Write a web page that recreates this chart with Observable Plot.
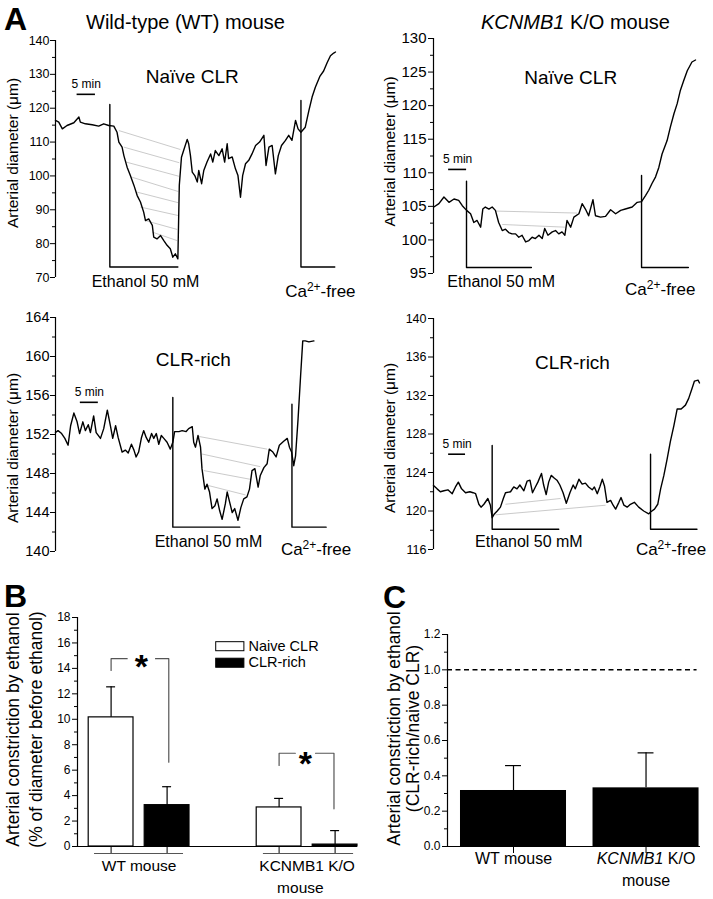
<!DOCTYPE html>
<html><head><meta charset="utf-8">
<script src="https://cdn.jsdelivr.net/npm/d3@7"></script>
<script src="https://cdn.jsdelivr.net/npm/@observablehq/plot@0.6"></script>
<style>
html,body{margin:0;padding:0;background:#fff;}
#fig{position:relative;width:713px;height:899px;overflow:hidden;background:#fff;}
#fig svg{position:absolute;left:0;top:0;}
</style></head><body><div id="fig"></div>
<script>
// ---------- DATA: traces [time (min), arterial diameter (µm)] ----------
const wtNaive = [[0,116.4],[0.9,115.9],[1.9,113.9],[3.2,114.9],[5.1,115.7],[6.5,117.4],[6.9,115.9],[8.3,115.4],[10.2,115.1],[12.0,114.7],[13.4,115.4],[14.8,114.9],[16.2,114.7],[17.1,112.9],[17.6,110.0],[18.5,108.5],[19.0,106.0],[19.9,102.6],[20.8,100.1],[21.8,97.2],[22.7,94.2],[23.6,92.3],[24.5,89.3],[25.0,86.8],[25.9,87.3],[26.9,85.4],[27.3,81.9],[28.2,81.4],[29.2,82.4],[30.1,80.9],[31.0,79.5],[31.9,78.5],[32.6,76.0],[33.3,77.0],[34.0,75.5],[34.4,97.2],[35.0,105.5],[35.6,107.5],[36.6,110.8],[37.0,109.5],[37.5,106.0],[38.0,101.1],[38.7,100.1],[39.4,98.2],[39.8,101.6],[40.6,97.7],[41.2,101.6],[42.1,104.1],[43.1,106.5],[43.7,104.1],[44.4,107.5],[45.4,106.0],[46.3,108.0],[47.0,104.1],[47.7,109.5],[48.1,105.1],[49.1,105.6],[50.0,102.1],[50.7,100.1],[51.4,93.7],[52.0,100.1],[52.8,103.6],[53.7,104.6],[54.6,106.5],[55.6,109.0],[56.7,110.0],[57.9,112.0],[58.5,103.1],[59.3,108.5],[60.2,109.0],[61.1,100.6],[61.9,106.0],[62.8,109.0],[63.9,110.5],[64.8,112.0],[65.7,110.5],[66.7,116.4],[67.4,113.9],[68.2,112.9],[69.4,114.4],[70.4,119.3],[71.3,123.3],[72.2,126.2],[73.5,129.5],[74.5,131.0],[75.5,133.5],[76.4,135.5],[77.3,136.3],[77.8,136.6]];
const koNaive = [[0.1,104.9],[1.5,105.4],[2.9,106.4],[4.3,105.6],[5.7,106.1],[7.0,105.9],[8.0,105.1],[9.2,104.4],[10.3,103.9],[11.2,102.6],[12.1,102.9],[13.1,101.9],[13.7,104.6],[14.4,104.9],[15.4,104.6],[16.3,104.9],[17.2,104.4],[18.1,102.6],[19.1,101.4],[20.0,101.6],[20.9,101.1],[21.8,100.9],[22.8,100.9],[23.7,100.4],[24.6,100.7],[25.6,99.7],[26.5,99.9],[27.4,100.4],[28.3,100.2],[29.3,100.7],[30.2,100.2],[30.9,101.7],[31.8,100.7],[33.0,101.2],[33.9,101.4],[34.8,100.9],[35.7,101.2],[36.5,100.7],[37.1,102.9],[38.1,101.9],[39.0,103.4],[40.4,103.9],[41.3,105.4],[42.2,104.6],[43.1,103.6],[44.3,106.0],[45.0,103.6],[46.4,103.4],[47.8,103.5],[49.2,104.5],[50.6,103.9],[52.0,104.4],[53.3,104.6],[55.2,104.9],[56.6,105.6],[57.8,105.7],[58.9,106.6],[59.8,107.4],[60.7,108.4],[61.7,109.4],[62.6,110.8],[63.5,112.8],[64.9,114.8],[65.8,116.8],[66.8,118.8],[67.7,120.3],[68.6,122.3],[69.5,123.7],[70.5,125.2],[71.8,126.5],[72.8,126.8]];
const wtRich = [[0,152.2],[0.7,152.4],[1.7,152.1],[2.6,151.6],[3.5,150.9],[4.2,152.9],[5.1,154.2],[6.0,153.3],[6.7,152.1],[7.6,153.3],[8.3,152.4],[9.1,153.0],[9.7,152.2],[10.6,153.9],[11.3,152.2],[12.5,151.6],[13.4,152.6],[14.4,154.5],[15.3,152.8],[15.9,151.6],[16.7,152.9],[17.4,151.7],[18.5,150.2],[19.4,150.4],[20.2,150.1],[21.1,151.0],[21.8,150.4],[22.4,149.7],[23.1,150.2],[23.9,151.7],[24.5,152.4],[25.2,151.7],[25.9,151.2],[26.7,152.1],[27.3,151.6],[28.0,152.1],[28.7,151.0],[29.4,151.9],[30.1,151.6],[31.0,151.2],[31.9,150.5],[32.6,151.2],[33.1,152.3],[34.3,152.3],[35.2,152.4],[36.3,152.3],[37.0,152.6],[38.0,152.8],[38.4,151.2],[38.9,150.7],[39.6,151.9],[40.3,150.7],[40.7,148.5],[41.5,146.4],[42.1,146.9],[42.8,146.1],[43.5,144.4],[44.3,144.7],[44.9,145.4],[45.6,144.2],[46.3,143.3],[47.2,144.9],[47.7,146.1],[48.3,145.2],[49.1,144.0],[49.8,144.4],[50.7,143.2],[51.5,144.5],[52.3,145.4],[53.2,145.6],[53.9,146.4],[54.6,148.3],[55.4,148.5],[56.3,146.6],[56.9,147.8],[57.9,148.6],[58.8,149.0],[59.4,150.5],[60.4,150.2],[61.3,149.7],[62.2,150.9],[63.4,151.3],[64.4,151.6],[65.0,150.7],[65.6,150.2],[66.2,148.8],[66.7,149.8],[67.4,153.6],[68.1,158.0],[68.7,161.6],[69.4,161.6],[70.4,161.5],[71.8,161.6]];
const koRich = [[0,122.65],[1.0,122.3],[1.9,122.0],[2.9,122.1],[4.0,122.2],[5.2,121.8],[6.1,122.5],[6.9,123.0],[7.8,122.3],[8.9,121.9],[10.1,122.0],[11.0,121.9],[11.7,121.8],[12.6,120.7],[13.2,120.4],[14.0,120.7],[15.1,121.3],[15.8,120.6],[16.3,119.3],[16.9,119.7],[17.7,120.0],[18.6,120.4],[19.4,121.3],[20.0,121.9],[21.4,122.0],[22.3,122.5],[23.2,122.3],[24.0,122.7],[25.1,122.1],[26.0,123.1],[26.8,123.2],[27.5,121.9],[28.3,122.5],[29.0,123.0],[30.0,123.9],[30.6,122.7],[31.3,121.7],[32.0,123.0],[32.7,123.7],[33.6,123.4],[34.3,123.2],[35.1,122.7],[36.0,121.9],[36.9,120.8],[37.9,121.9],[38.8,122.7],[39.4,122.3],[40.4,123.3],[41.3,122.8],[42.2,122.9],[43.1,122.5],[44.1,122.2],[44.7,122.5],[45.5,121.8],[46.2,122.5],[46.9,123.3],[47.5,122.6],[48.2,120.9],[49.2,121.1],[49.9,120.6],[50.6,120.2],[51.5,120.9],[52.1,121.4],[52.9,120.6],[53.8,120.4],[54.7,120.7],[55.8,120.9],[57.0,120.4],[58.4,120.0],[59.8,119.7],[60.3,119.9],[61.4,120.2],[62.3,120.7],[63.1,122.3],[64.0,123.7],[64.9,125.4],[65.8,127.2],[66.8,128.9],[67.7,130.6],[68.8,130.6],[70.0,131.0],[70.9,131.7],[71.8,132.7],[72.5,133.5],[73.5,133.6],[73.9,133.3]];

// grey guide lines [t1, d1, t2, d2]
const wtNaiveHatch = [[17.6,113.4,34.7,107.8],[19.0,108.5,34.4,103.9],[19.6,104.1,34.3,99.9],[21.3,99.6,34.1,95.4],[22.7,95.2,34.1,92.1],[23.6,90.8,34.1,88.3],[25.0,86.8,33.8,84.2],[26.9,83.4,33.8,80.9]];
const koNaiveHatch = [[17.2,104.3,39.9,104.0],[19.1,102.3,36.5,101.9]];
const wtRichHatch = [[39.8,151.8,58.8,150.5],[40.7,150.0,56.9,148.7],[41.2,148.3,54.2,147.4],[42.1,146.8,52.8,145.8]];
const koRichHatch = [[20.0,120.7,35.3,121.3],[17.2,119.6,47.8,120.6]];

// Panel B values
const bSlots = [0, 1, 3, 4];
const bCond = ["Naive CLR", "CLR-rich", "Naive CLR", "CLR-rich"];
const bMean = [10.15, 3.25, 3.07, 0.15];
const bSem = [2.4, 1.45, 0.71, 1.1];
const bYTicks = [0, 2, 4, 6, 8, 10, 12, 14, 16, 18];
const bYMinor = [1, 3, 5, 7, 9, 11, 13, 15, 17];
// Panel C values
const cSlots = [0, 1];
const cMean = [0.317, 0.332];
const cSem = [0.141, 0.198];
const cYTicks = [0, 0.2, 0.4, 0.6, 0.8, 1.0, 1.2];
const cYMinor = [0.1, 0.3, 0.5, 0.7, 0.9, 1.1];
const cRef = [1.0];

// ---------- RENDER ----------
const FONT = '"Liberation Sans", Arial, Helvetica, sans-serif';
const W = 713, H = 899;
const fig = document.getElementById("fig");
const P = d => d[0], V = d => d[1];
const bracket = b => [[b.t, b.top], [b.t, b.bottom], [b.end, b.bottom]];

function addSup(svg) {
  d3.select(svg).selectAll("text").filter(function () { return this.textContent === "Ca2+-free"; }).each(function () {
    const s = d3.select(this); s.text(null);
    s.append("tspan").text("Ca");
    s.append("tspan").attr("dy", -6).attr("font-size", 12).text("2+");
    s.append("tspan").attr("dy", 6).text("-free");
  });
}

function tracePanel(c) {
  const svg = Plot.plot({
    width: W, height: H,
    marginLeft: c.left, marginRight: W - c.right, marginTop: c.top, marginBottom: H - c.bottom,
    x: {domain: [0, c.xMax], axis: null},
    y: {domain: c.yDomain},
    style: {background: "transparent", fontFamily: FONT, fontSize: c.tickFont + "px", color: "#000", overflow: "visible"},
    marks: [
      Plot.axisY({ticks: c.major, tickSize: 5, tickPadding: c.pad, label: null}),
      Plot.axisY({ticks: c.minor, tickSize: 3, tickFormat: () => "", label: null}),
      Plot.ruleX([0], {strokeWidth: 1.2}),
      Plot.link(c.hatch, {x1: d => d[0], y1: d => d[1], x2: d => d[2], y2: d => d[3], stroke: "#c4c4c4", strokeWidth: 0.9}),
      Plot.line(c.trace, {x: P, y: V, strokeWidth: 1.4}),
      Plot.line(bracket(c.eth), {x: P, y: V, strokeWidth: 1.4}),
      Plot.line(bracket(c.ca), {x: P, y: V, strokeWidth: 1.4}),
      Plot.ruleY([c.bar], {y: "y", x1: "t1", x2: "t2", strokeWidth: 1.6}),
      Plot.text([c.bar], {x: d => (d.t1 + d.t2) / 2, y: "ty", text: () => "5 min", fontSize: 12}),
      Plot.text([c.cond], {x: "x", y: "y", text: "s", fontSize: 19}),
      Plot.text([c.ethText], {x: "x", y: "y", text: () => "Ethanol 50 mM", fontSize: 16}),
      Plot.text([c.caText], {x: "x", y: "y", text: () => "Ca2+-free", fontSize: 17}),
      Plot.text(["Arterial diameter (μm)"], {frameAnchor: "left", textAnchor: "middle", rotate: -90, dx: c.labDx, dy: c.labDy, fontSize: 15.5})
    ]
  });
  addSup(svg);
  fig.append(svg);
}

tracePanel({
  trace: wtNaive, hatch: wtNaiveHatch, left: 55, right: 335, top: 40, bottom: 277, xMax: 77.8,
  yDomain: [70, 140], major: [70, 80, 90, 100, 110, 120, 130, 140], minor: [75, 85, 95, 105, 115, 125, 135],
  tickFont: 12.5, pad: 1,
  eth: {t: 15.1, top: 121.1, bottom: 73.1, end: 34.0}, ca: {t: 68.2, top: 122.3, bottom: 73.1, end: 77.6},
  bar: {t1: 6.0, t2: 11.1, y: 124.1, ty: 127.0}, cond: {x: 38, y: 129.2, s: "Naïve CLR"},
  ethText: {x: 25.0, y: 68.6}, caText: {x: 73.6, y: 65.9}, labDx: -42.5, labDy: -6
});
tracePanel({
  trace: koNaive, hatch: koNaiveHatch, left: 433, right: 699, top: 38, bottom: 273, xMax: 73.9,
  yDomain: [95, 130], major: [95, 100, 105, 110, 115, 120, 125, 130], minor: [97.5, 102.5, 107.5, 112.5, 117.5, 122.5, 127.5],
  tickFont: 15, pad: 2,
  eth: {t: 9.17, top: 108.75, bottom: 95.9, end: 27.2}, ca: {t: 57.8, top: 109.6, bottom: 95.9, end: 70.8},
  bar: {t1: 4.2, t2: 9.2, y: 110.5, ty: 112.0}, cond: {x: 38.1, y: 124.2, s: "Naïve CLR"},
  ethText: {x: 18.8, y: 93.7}, caText: {x: 63.0, y: 92.6}, labDx: -43, labDy: -4.5
});
tracePanel({
  trace: wtRich, hatch: wtRichHatch, left: 55, right: 335, top: 317, bottom: 551, xMax: 77.8,
  yDomain: [140, 164], major: [140, 144, 148, 152, 156, 160, 164], minor: [142, 146, 150, 154, 158, 162],
  tickFont: 14.5, pad: 1,
  eth: {t: 32.6, top: 155.8, bottom: 142.5, end: 51.2}, ca: {t: 65.7, top: 155.1, bottom: 142.5, end: 75.2},
  bar: {t1: 6.9, t2: 11.9, y: 155.3, ty: 156.3}, cond: {x: 38.3, y: 159.6, s: "CLR-rich"},
  ethText: {x: 42.5, y: 140.95}, caText: {x: 72.4, y: 140.2}, labDx: -42.5, labDy: 13.5
});
tracePanel({
  trace: koRich, hatch: koRichHatch, left: 433, right: 699, top: 318, bottom: 549, xMax: 73.9,
  yDomain: [116, 140], major: [116, 120, 124, 128, 132, 136, 140], minor: [118, 122, 126, 130, 134, 138],
  tickFont: 12.5, pad: 2,
  eth: {t: 16.3, top: 126.8, bottom: 118.1, end: 34.8}, ca: {t: 60.3, top: 125.9, bottom: 118.1, end: 73.2},
  bar: {t1: 4.2, t2: 8.9, y: 125.9, ty: 126.9}, cond: {x: 38.6, y: 135.4, s: "CLR-rich"},
  ethText: {x: 26.5, y: 116.8}, caText: {x: 66.0, y: 116.0}, labDx: -43, labDy: 4
});

// ---------- Panel B ----------
const rowsB = bSlots.map((s, i) => ({slot: s, cond: bCond[i], mean: bMean[i], top: bMean[i] + bSem[i]}));
const bXDom = [-0.6, 4.4];
const bUnder = [{x1: -0.296, x2: 1.293}, {x1: 2.72, x2: 4.33}];
const bGroups = [{x: 0.5, a: "WT mouse", b: ""}, {x: 3.5, a: "KCNMB1 K/O", b: "mouse"}];
const bLegend = [
  {label: "Naive CLR", fill: "white", x1: 1.877, x2: 2.38, y1: 15.35, y2: 16.06, tx: 2.454, ty: 15.76},
  {label: "CLR-rich", fill: "black", x1: 1.877, x2: 2.38, y1: 14.05, y2: 14.76, tx: 2.454, ty: 14.44}
];
const bSig = [
  {g: "a", x: 0, y: 13.84}, {g: "a", x: 0, y: 14.76}, {g: "a", x: 0.287, y: 14.76},
  {g: "b", x: 0.793, y: 14.76}, {g: "b", x: 1.03, y: 14.76}, {g: "b", x: 1.03, y: 6.63},
  {g: "c", x: 3, y: 6.37}, {g: "c", x: 3, y: 7.33}, {g: "c", x: 3.29, y: 7.33},
  {g: "d", x: 3.65, y: 7.33}, {g: "d", x: 3.98, y: 7.33}, {g: "d", x: 3.98, y: 2.96}
];
const bStars = [{x: 0.539, y: 14.62}, {x: 3.47, y: 7.02}];

const svgB = Plot.plot({
  width: W, height: H, marginLeft: 77, marginRight: W - 357, marginTop: 617, marginBottom: H - 846,
  x: {domain: bXDom}, y: {domain: [0, 18]},
  style: {background: "transparent", fontFamily: FONT, fontSize: "12px", color: "#000", overflow: "visible"},
  marks: [
    Plot.axisY({ticks: bYTicks, tickSize: 5, tickPadding: 2, label: null}),
    Plot.axisY({ticks: bYMinor, tickSize: 3, tickFormat: () => "", label: null}),
    Plot.axisX({ticks: bSlots, tickSize: 7, tickFormat: () => "", label: null}),
    Plot.ruleX([bXDom[0]], {strokeWidth: 1.2}),
    Plot.ruleY(bUnder, {y: () => -0.55, x1: "x1", x2: "x2", stroke: "#555", strokeWidth: 1.2}),
    Plot.rect(rowsB.filter(d => d.cond === "Naive CLR"), {x1: d => d.slot - 0.4, x2: d => d.slot + 0.4, y1: () => 0, y2: "mean", fill: "white", stroke: "black", strokeWidth: 1.2}),
    Plot.rect(rowsB.filter(d => d.cond === "CLR-rich"), {x1: d => d.slot - 0.4, x2: d => d.slot + 0.4, y1: () => 0, y2: "mean", fill: "black", stroke: "black", strokeWidth: 1.2}),
    Plot.ruleX(rowsB, {x: "slot", y1: "mean", y2: "top", strokeWidth: 1.2}),
    Plot.ruleY(rowsB, {y: "top", x1: d => d.slot - 0.08, x2: d => d.slot + 0.08, strokeWidth: 1.2}),
    Plot.ruleY([0], {strokeWidth: 1.2}),
    Plot.line(bSig, {x: "x", y: "y", z: "g", stroke: "#555", strokeWidth: 1.2}),
    Plot.text(bStars, {x: "x", y: "y", text: () => "*", fontSize: 34, fontWeight: "bold", dy: 7}),
    Plot.rect(bLegend, {x1: "x1", x2: "x2", y1: "y1", y2: "y2", fill: "fill", stroke: "black", strokeWidth: 1}),
    Plot.text(bLegend, {x: "tx", y: "ty", text: "label", textAnchor: "start", fontSize: 14.5}),
    Plot.text(bGroups, {x: "x", frameAnchor: "bottom", dy: 24, text: "a", fontSize: 15.5}),
    Plot.text(bGroups, {x: d => d.x - 0.12, frameAnchor: "bottom", dy: 46, text: "b", fontSize: 15.5}),
    Plot.text(["Arterial constriction by ethanol"], {frameAnchor: "left", textAnchor: "middle", rotate: -90, dx: -64, dy: -2.5, fontSize: 17.5}),
    Plot.text(["(% of diameter before ethanol)"], {frameAnchor: "left", textAnchor: "middle", rotate: -90, dx: -41, dy: -2.5, fontSize: 17.5})
  ]
});
fig.append(svgB);

// ---------- Panel C ----------
const rowsC = cSlots.map((s, i) => ({slot: s, mean: cMean[i], top: cMean[i] + cSem[i]}));
const cXDom = [-0.498, 1.411];
const cGroups = [{x: 0, a: "WT mouse", b: ""}, {x: 1, a: "KCNMB1 K/O", b: "mouse"}];
const svgC = Plot.plot({
  width: W, height: H, marginLeft: 447, marginRight: W - 700, marginTop: 634, marginBottom: H - 846,
  x: {domain: cXDom}, y: {domain: [0, 1.2]},
  style: {background: "transparent", fontFamily: FONT, fontSize: "12px", color: "#000", overflow: "visible"},
  marks: [
    Plot.axisY({ticks: cYTicks, tickSize: 5, tickPadding: 2, tickFormat: d3.format(".1f"), label: null}),
    Plot.axisY({ticks: cYMinor, tickSize: 3, tickFormat: () => "", label: null}),
    Plot.axisX({ticks: cSlots, tickSize: 7, tickFormat: () => "", label: null}),
    Plot.ruleX([cXDom[0]], {strokeWidth: 1.2}),
    Plot.ruleY(cRef, {y: d => d, x1: () => cXDom[0], x2: () => 1.385, strokeDasharray: "5,3.5", strokeWidth: 1.5}),
    Plot.rect(rowsC, {x1: d => d.slot - 0.4, x2: d => d.slot + 0.4, y1: () => 0, y2: "mean", fill: "black"}),
    Plot.ruleX(rowsC, {x: "slot", y1: "mean", y2: "top", strokeWidth: 1.2}),
    Plot.ruleY(rowsC, {y: "top", x1: d => d.slot - 0.06, x2: d => d.slot + 0.06, strokeWidth: 1.2}),
    Plot.ruleY([0], {strokeWidth: 1.2}),
    Plot.text(cGroups, {x: "x", frameAnchor: "bottom", dy: 17, text: "a", fontSize: 16}),
    Plot.text(cGroups, {x: "x", frameAnchor: "bottom", dy: 39, text: "b", fontSize: 16}),
    Plot.text(["Arterial constriction by ethanol"], {frameAnchor: "left", textAnchor: "middle", rotate: -90, dx: -53, dy: -12, fontSize: 17.5}),
    Plot.text(["(CLR-rich/naive CLR)"], {frameAnchor: "left", textAnchor: "middle", rotate: -90, dx: -34.5, dy: -12, fontSize: 17.5})
  ]
});
d3.select(svgC).selectAll("text").filter(function () { return this.textContent === "KCNMB1 K/O"; }).each(function () {
  const s = d3.select(this); s.text(null);
  s.append("tspan").attr("font-style", "italic").text("KCNMB1");
  s.append("tspan").text(" K/O");
});
fig.append(svgC);

// ---------- Headers and panel letters ----------
const hdr = d3.create("svg").attr("width", W).attr("height", H).style("font-family", FONT);
const letters = [{s: "A", x: 4, y: 29.5}, {s: "B", x: 4, y: 607}, {s: "C", x: 383, y: 608}];
hdr.selectAll("text.l").data(letters).join("text").attr("class", "l").attr("x", d => d.x).attr("y", d => d.y)
  .attr("font-size", 32).attr("font-weight", "bold").text(d => d.s);
hdr.append("text").attr("x", 185.5).attr("y", 28.5).attr("text-anchor", "middle").attr("font-size", 20).text("Wild-type (WT) mouse");
const kh = hdr.append("text").attr("x", 575.5).attr("y", 28.5).attr("text-anchor", "middle").attr("font-size", 20);
kh.append("tspan").attr("font-style", "italic").text("KCNMB1");
kh.append("tspan").text(" K/O mouse");
fig.append(hdr.node());
</script></body></html>
